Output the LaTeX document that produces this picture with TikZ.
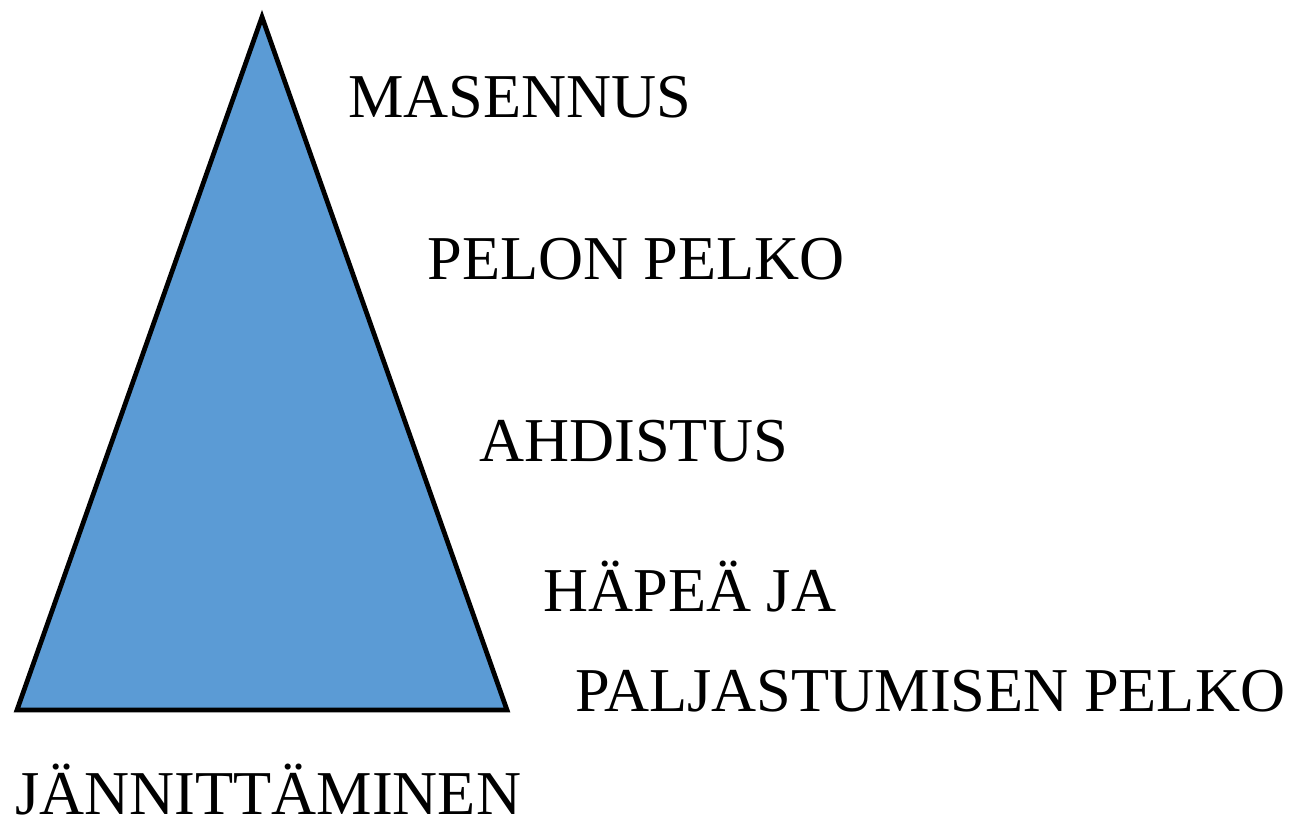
\documentclass[tikz,border=0pt]{standalone}
\usepackage{fontspec}
\setmainfont{Liberation Serif}
\usepackage{xcolor}
\usepackage{tikz}
\usetikzlibrary{positioning}
\definecolor{PyramidInk}{HTML}{000000}
\definecolor{PyramidFill}{HTML}{5B9BD5}
\tikzset{
  figure/.style={x=0.02cm,y=-0.02cm,text=PyramidInk},
  pyramid/.style={draw=PyramidInk,line width=2.7pt,fill=PyramidFill,line join=miter},
  level/.style={font=\fontsize{35.5}{40}\selectfont,anchor=base west,inner sep=0pt},
}
\begin{document}
\begin{tikzpicture}[figure]
  \useasboundingbox (0,0) rectangle (1302,832);

  \coordinate (top) at (262,17);
  \coordinate (left) at (17,710);
  \coordinate (right) at (507,710);
  \draw[pyramid] (top) -- (left) -- (right) -- cycle;

  \node[level] (masennus) at (348,117) {MASENNUS};
  \node[level] (pelko) at (427,279) {PELON PELKO};
  \node[level] (ahdistus) at (479,461) {AHDISTUS};
  \node[level] (hapea) at (543,611) {HÄPEÄ JA};
  \node[level] (paljastus) at (575,711) {PALJASTUMISEN PELKO};
  \node[level] (jannitys) at (15,814) {JÄNNITTÄMINEN};
\end{tikzpicture}
\end{document}
